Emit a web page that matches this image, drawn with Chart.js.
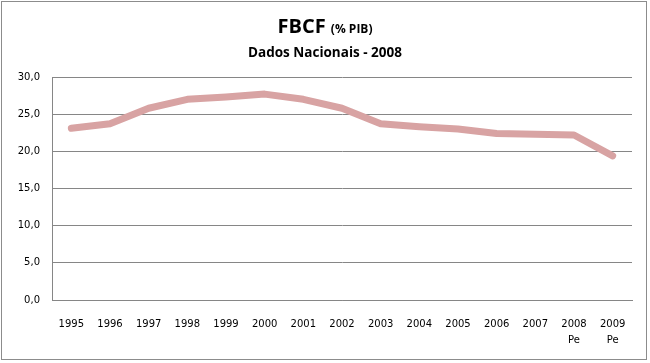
<!DOCTYPE html>
<html>
<head>
<meta charset="utf-8">
<script src="https://cdn.jsdelivr.net/npm/chart.js@4.4.1/dist/chart.umd.min.js"></script>
<style>
  html, body { margin: 0; padding: 0; background: #fff; }
  #wrap { width: 650px; height: 363px; }
</style>
</head>
<body>
<div id="wrap"><canvas id="lineChart" width="650" height="363"></canvas></div>
<script>
// FBCF (% PIB) - Dados Nacionais 2008
const years = [['1995'], ['1996'], ['1997'], ['1998'], ['1999'], ['2000'], ['2001'], ['2002'],
    ['2003'], ['2004'], ['2005'], ['2006'], ['2007'], ['2008', 'Pe'], ['2009', 'Pe']];
const fbcf = [23.1, 23.7, 25.8, 27.0, 27.3, 27.7, 27.0, 25.8, 23.7, 23.3, 23.0, 22.4, 22.3, 22.2, 19.4];
const yTicks = [0, 5, 10, 15, 20, 25, 30];

document.addEventListener("DOMContentLoaded", function () {
    const ctx = document.getElementById('lineChart').getContext('2d');

    // title with two font sizes + outer frame
    const titlePlugin = {
        id: 'titleFrame',
        afterDraw(chart) {
            const c = chart.ctx;
            c.save();
            c.strokeStyle = '#8c8c8c';
            c.lineWidth = 1;
            c.strokeRect(1.5, 1.5, 645, 358);

            c.fillStyle = '#000';
            c.textBaseline = 'alphabetic';
            c.font = 'bold 20px "Open Sans"';
            const t1 = 'FBCF ';
            const w1 = c.measureText(t1).width;
            c.font = 'bold 12px "Open Sans"';
            const t2 = '(% PIB)';
            const w2 = c.measureText(t2).width;
            const x0 = 325 - (w1 + w2) / 2;
            c.textAlign = 'left';
            c.font = 'bold 20px "Open Sans"';
            c.fillText(t1, x0, 33);
            c.font = 'bold 12px "Open Sans"';
            c.fillText(t2, x0 + w1, 33);

            c.textAlign = 'center';
            c.font = 'bold 13.5px "Open Sans"';
            c.fillText('Dados Nacionais - 2008', 325, 57);
            c.restore();
        }
    };

    new Chart(ctx, {
        type: 'line',
        data: {
            labels: years,
            datasets: [{
                label: 'FBCF',
                data: fbcf,
                borderColor: '#d8a3a3',
                borderWidth: 7,
                pointRadius: 0,
                tension: 0,
                borderCapStyle: 'round',
                borderJoinStyle: 'round',
                fill: false
            }]
        },
        options: {
            responsive: false,
            maintainAspectRatio: false,
            animation: false,
            layout: { padding: { left: 0, right: 18, top: 77, bottom: 0 } },
            plugins: {
                legend: { display: false },
                title: { display: false },
                tooltip: { enabled: false }
            },
            scales: {
                x: {
                    offset: true,
                    grid: { display: false, drawTicks: false },
                    border: { display: true, color: '#868686', width: 1 },
                    ticks: {
                        color: '#000',
                        font: { family: 'DejaVu Sans', size: 10, lineHeight: 1.6 },
                        padding: 16,
                        maxRotation: 0,
                        autoSkip: false
                    },
                    afterFit: function (scale) { scale.height = 63; }
                },
                y: {
                    min: 0,
                    max: 30,
                    afterBuildTicks: function (scale) {
                        scale.ticks = yTicks.map(v => ({ value: v }));
                    },
                    grid: { color: '#868686', drawTicks: false },
                    border: { display: true, color: '#868686', width: 1 },
                    ticks: {
                        color: '#000',
                        font: { family: 'DejaVu Sans', size: 10 },
                        padding: 12,
                        callback: v => v.toFixed(1).replace('.', ',')
                    },
                    afterFit: function (scale) { scale.width = 52; }
                }
            }
        },
        plugins: [titlePlugin]
    });
});
</script>
</body>
</html>
